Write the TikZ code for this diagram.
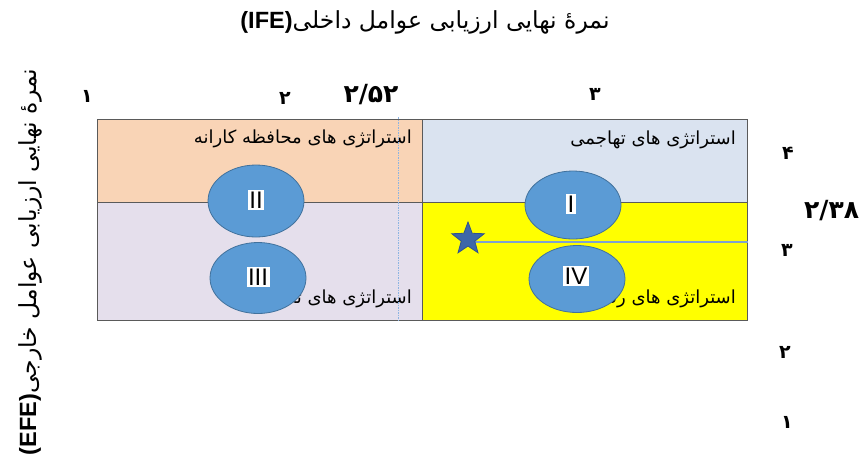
\documentclass[tikz,border=0pt]{standalone}
\usepackage{fontspec}
\usetikzlibrary{shapes.geometric}
\TeXXeTstate=1
\newfontfamily\fa[Script=Arabic]{DejaVu Sans}
\newfontfamily\lat{Liberation Sans}
\setmainfont{DejaVu Sans}

\definecolor{peach}{HTML}{F9D4B6}
\definecolor{lavender}{HTML}{E5DFEC}
\definecolor{paleblue}{HTML}{DAE3F0}
\definecolor{brightyellow}{HTML}{FFFF00}
\definecolor{framegray}{HTML}{5A5A5A}
\definecolor{ovalfill}{HTML}{5B9BD5}
\definecolor{ovaldraw}{HTML}{41719C}
\definecolor{starfill}{HTML}{3D67A8}
\definecolor{stardraw}{HTML}{2F528F}
\definecolor{guide}{HTML}{7FA2CF}
\definecolor{dashblue}{HTML}{8DB4E2}

\tikzset{
  quad/.style={draw=framegray, line width=0.9pt, inner sep=0pt, outer sep=0pt,
               anchor=north west},
  oval/.style={ellipse, draw=ovaldraw, fill=ovalfill, line width=0.8pt,
               inner sep=0pt},
  roman/.style={fill=white, inner xsep=1.5pt, inner ysep=2pt,
                font=\lat\fontsize{24}{24}\selectfont},
  qtext/.style={anchor=east, inner sep=0pt, font=\fa\fontsize{18}{20}\selectfont},
  axisnum/.style={inner sep=0pt, font=\fa\bfseries\fontsize{19}{20}\selectfont},
  bignum/.style={inner sep=0pt, font=\fa\bfseries\fontsize{25}{26}\selectfont},
  axistitle/.style={inner sep=0pt, font=\fontsize{23.5}{26}\selectfont},
  marker/.style={star, star points=5, star point ratio=2.4, minimum size=34pt,
                 inner sep=0pt, fill=starfill, draw=stardraw, line width=0.8pt}
}

\begin{document}
\begin{tikzpicture}[x=1pt, y=-1pt]
\useasboundingbox (0,0) rectangle (861,459);

% axis titles
\node[axistitle] (ifetitle) at (425,22)
  {{\lat\bfseries(IFE)}{\fa\beginR نمرهٔ نهایی ارزیابی عوامل داخلی\endR}};
\node[axistitle, rotate=90] (efetitle) at (30,262)
  {{\lat\bfseries(EFE)}{\fa\beginR نمرهٔ نهایی ارزیابی عوامل خارجی\endR}};

% IFE scale along the top
\node[axisnum] (t1) at (87,96) {۱};
\node[axisnum] (t2) at (285,98) {۲};
\node[bignum]  (t252) at (371,95) {۲/۵۲};
\node[axisnum] (t3) at (595,94) {۳};

% EFE scale along the right
\node[axisnum] (r4) at (788,153) {۴};
\node[bignum, anchor=west] (r238) at (804,211) {۲/۳۸};
\node[axisnum] (r3) at (787,250) {۳};
\node[axisnum] (r2) at (785,352) {۲};
\node[axisnum] (r1) at (787,422) {۱};

% the four quadrants
\node[quad, fill=peach, minimum width=325pt, minimum height=83pt] (q2) at (97,119) {};
\node[quad, fill=paleblue, minimum width=325pt, minimum height=83pt] (q1) at (422,119) {};
\node[quad, fill=lavender, minimum width=325pt, minimum height=118pt] (q3) at (97,202) {};
\node[quad, fill=brightyellow, minimum width=325pt, minimum height=118pt] (q4) at (422,202) {};

% strategy names
\node[qtext] (s2) at (412,139) {\beginR استراتژی های محافظه کارانه\endR};
\node[qtext] (s1) at (736,140) {\beginR استراتژی های تهاجمی\endR};
\node[qtext] (s3) at (412,299) {\beginR استراتژی های تدافعی\endR};
\node[qtext] (s4) at (736,299) {\beginR استراتژی های رقابتی\endR};

% IFE = 2.52 marker
\coordinate (ifetop) at (398,117);
\coordinate (ifebot) at (398,321);
\draw[dashblue, line width=0.6pt, dash pattern=on 1.5pt off 1pt] (ifetop) -- (ifebot);

% quadrant ovals
\node[oval, minimum width=96pt, minimum height=72pt] (o2) at (256,201) {};
\node[oval, minimum width=96pt, minimum height=71pt] (o3) at (258,278) {};
\node[oval, minimum width=96pt, minimum height=68pt] (o1) at (573,205) {};
\node[oval, minimum width=96pt, minimum height=67pt] (o4) at (577,279) {};

\node[roman] (l2) at (256,200) {II};
\node[roman] (l3) at (258,277) {III};
\node[roman] (l1) at (571,204) {I};
\node[roman] (l4) at (576,276) {IV};

% EFE = 2.38 line and the company position
\coordinate (starc) at (468,242);
\coordinate (efeend) at (748,242);
\draw[guide, line width=1.2pt] (starc) -- (efeend);
\node[marker] (pos) at (468,239) {};
\end{tikzpicture}
\end{document}
